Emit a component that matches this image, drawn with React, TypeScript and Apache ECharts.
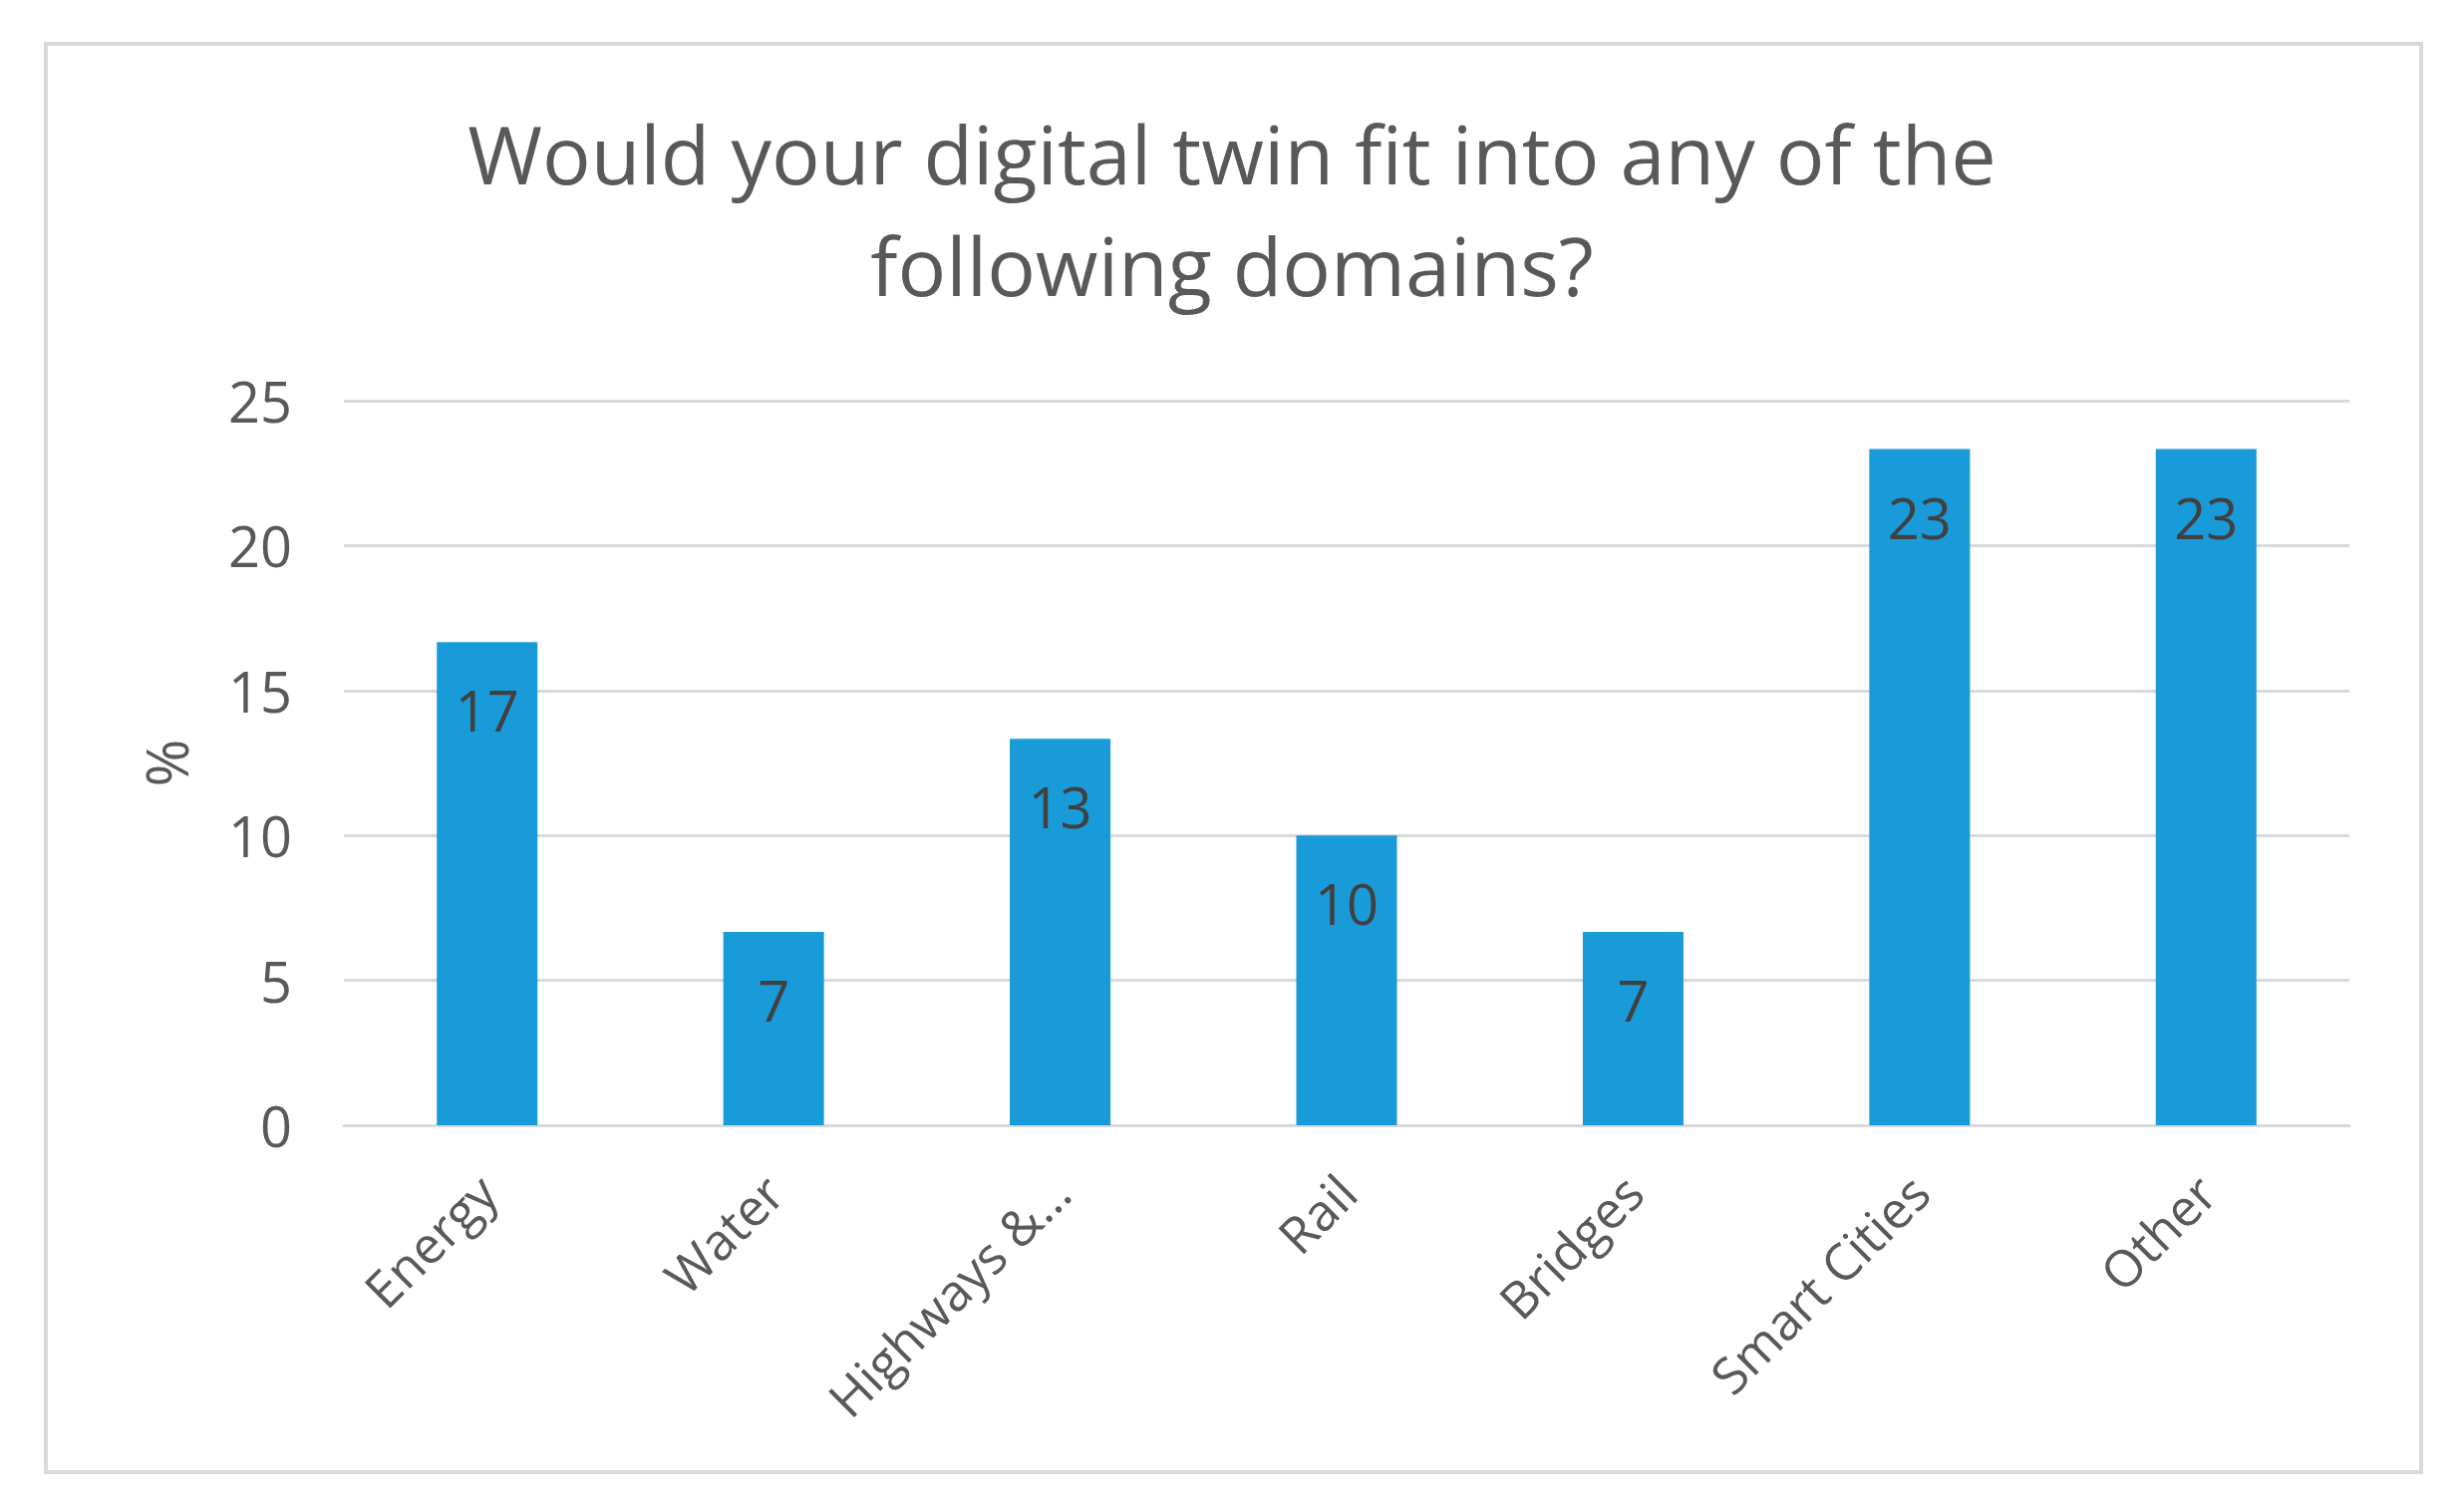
import React, { useEffect, useRef } from "react";
import * as echarts from "echarts";

const titleLines = ["Would your digital twin fit into any of the", "following domains?"];
const categories = ["Energy", "Water", "Highways &…", "Rail", "Bridges", "Smart Cities", "Other"];
const values = [16.67, 6.67, 13.33, 10, 6.67, 23.33, 23.33];
const yTicks = [0, 5, 10, 15, 20, 25];
const yName = "%";

const FONT = "'Open Sans', 'Noto Sans', sans-serif";
const TEXT = "#595959";
const GRID = "#d9d9d9";

export default function App() {
  const ref = useRef<HTMLDivElement>(null);
  useEffect(() => {
    if (!ref.current) return;
    const chart = echarts.init(ref.current, null, { renderer: "svg" });
    chart.setOption({
      animation: false,
      backgroundColor: "#ffffff",
      textStyle: { fontFamily: FONT },
      title: {
        text: titleLines.join("\n"),
        left: "center",
        top: 92,
        textStyle: {
          fontFamily: FONT,
          fontSize: 81,
          fontWeight: "normal",
          lineHeight: 112,
          color: TEXT,
        },
      },
      graphic: [
        {
          type: "rect",
          shape: { x: 46, y: 44, width: 2383, height: 1433 },
          style: { fill: "none", stroke: GRID, lineWidth: 4 },
          silent: true,
          z: -1,
        },
      ],
      grid: { left: 345, right: 115, top: 402, bottom: 387, containLabel: false },
      xAxis: {
        type: "category",
        data: categories,
        axisLine: { show: true, lineStyle: { color: GRID, width: 3 } },
        axisTick: { show: false },
        axisLabel: {
          rotate: 45,
          margin: 58,
          interval: 0,
          color: TEXT,
          fontFamily: FONT,
          fontSize: 51,
        },
      },
      yAxis: {
        type: "value",
        min: yTicks[0],
        max: yTicks[yTicks.length - 1],
        interval: yTicks[1] - yTicks[0],
        name: yName,
        nameLocation: "middle",
        nameGap: 150,
        nameRotate: 90,
        nameTextStyle: { color: TEXT, fontFamily: FONT, fontSize: 58 },
        axisLine: { show: false },
        axisTick: { show: false },
        axisLabel: { color: TEXT, fontFamily: FONT, fontSize: 56, margin: 52 },
        splitLine: { show: true, lineStyle: { color: GRID, width: 3 } },
      },
      series: [
        {
          type: "bar",
          data: values,
          barWidth: 101,
          itemStyle: { color: "#189bd8" },
          label: {
            show: true,
            position: "insideTop",
            distance: 40,
            color: "#404040",
            fontFamily: FONT,
            fontSize: 56,
            formatter: (p: any) => String(Math.round(p.value)),
          },
        },
      ],
    });
    return () => chart.dispose();
  }, []);
  return (
    <div
      ref={ref}
      style={{ position: "fixed", left: 0, top: 0, width: 2472, height: 1516, background: "#fff" }}
    />
  );
}
